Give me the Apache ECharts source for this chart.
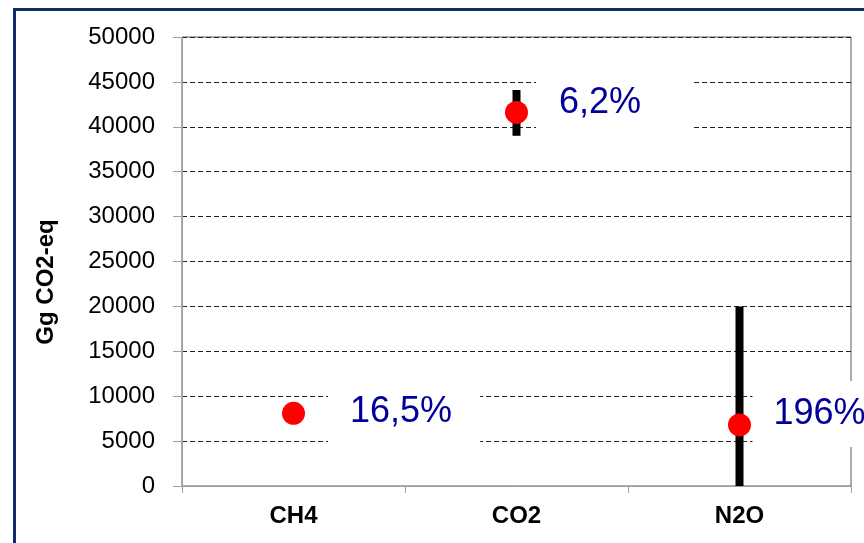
<!DOCTYPE html>
<html>
<head>
<meta charset="utf-8">
<script src="https://cdn.jsdelivr.net/npm/echarts@6/dist/echarts.min.js"></script>
<style>
html,body{margin:0;padding:0;background:#fff;}
#main{width:864px;height:543px;}
</style>
</head>
<body>
<div id="main"></div>
<script>
const categories = ['CH4', 'CO2', 'N2O'];
const values = [8100, 41600, 6800];
const errLow = [7100, 39000, 0];
const errHigh = [9100, 44100, 20000];
const pctLabels = ['16,5%', '6,2%', '196%'];
const yMin = 0, yMax = 50000, yStep = 5000;
const yTitle = 'Gg CO2-eq';

// label placement styling per point (layout only)
const labelLayout = [
  {distance: 23, offset: [0, -1.5], padding: [13, 28, 13, 22]},
  {distance: 8, offset: [0, -9], padding: [13, 51, 13, 23]},
  {distance: 1.5, offset: [0, -11], padding: [13, 30, 13, 21]}
];

const chart = echarts.init(document.getElementById('main'), null, {renderer: 'canvas'});
const font = 'Liberation Sans, Arial, sans-serif';

chart.setOption({
  backgroundColor: '#fff',
  animation: false,
  textStyle: {fontFamily: font},
  grid: {left: 182, top: 37, right: 13, bottom: 57, show: true, borderColor: '#5a5a5a', borderWidth: 1, backgroundColor: 'transparent'},
  graphic: [
    {type: 'rect', left: 12, top: 7, z: 100, shape: {x: 0, y: 0, width: 900, height: 600}, style: {fill: 'none', stroke: '#102a6b', lineWidth: 3}},
    {type: 'text', x: 46, y: 282, rotation: Math.PI / 2, z: 100,
      style: {text: yTitle, font: 'bold 24px ' + font, fill: '#000', textAlign: 'center', textVerticalAlign: 'middle'}}
  ],
  xAxis: {
    type: 'category',
    data: categories,
    boundaryGap: true,
    axisLine: {show: true, lineStyle: {color: '#a0a0a0', width: 1}},
    axisTick: {show: true, length: 7, lineStyle: {color: '#a0a0a0'}},
    axisLabel: {fontSize: 24, fontWeight: 'bold', color: '#000', margin: 18, fontFamily: font},
    splitLine: {show: false}
  },
  yAxis: {
    type: 'value',
    min: yMin, max: yMax, interval: yStep,
    axisLine: {show: true, lineStyle: {color: '#a0a0a0', width: 1}},
    axisTick: {show: true, length: 9, lineStyle: {color: '#a0a0a0'}},
    axisLabel: {fontSize: 24, color: '#000', margin: 27, fontFamily: font, formatter: function (v) { return String(v); }},
    splitLine: {show: true, lineStyle: {color: '#222', type: [5, 3], width: 1}}
  },
  series: [
    {
      type: 'custom',
      z: 2,
      data: categories.map((c, i) => [i, errLow[i], errHigh[i]]),
      renderItem: function (params, api) {
        const hi = api.coord([api.value(0), api.value(2)]);
        const lo = api.coord([api.value(0), api.value(1)]);
        return {type: 'rect', shape: {x: hi[0] - 4, y: hi[1], width: 8, height: lo[1] - hi[1]}, style: {fill: '#000'}};
      }
    },
    {
      type: 'scatter',
      z: 3,
      symbol: 'circle',
      symbolSize: 23,
      itemStyle: {color: '#ff0000', opacity: 1},
      data: values.map((v, i) => ({
        value: [i, v],
        label: {
          show: true,
          position: 'right',
          distance: labelLayout[i].distance,
          offset: labelLayout[i].offset,
          formatter: pctLabels[i],
          fontSize: 36,
          lineHeight: 40,
          color: '#000099',
          fontFamily: font,
          backgroundColor: '#fff',
          padding: labelLayout[i].padding
        }
      }))
    }
  ]
});
</script>
</body>
</html>
